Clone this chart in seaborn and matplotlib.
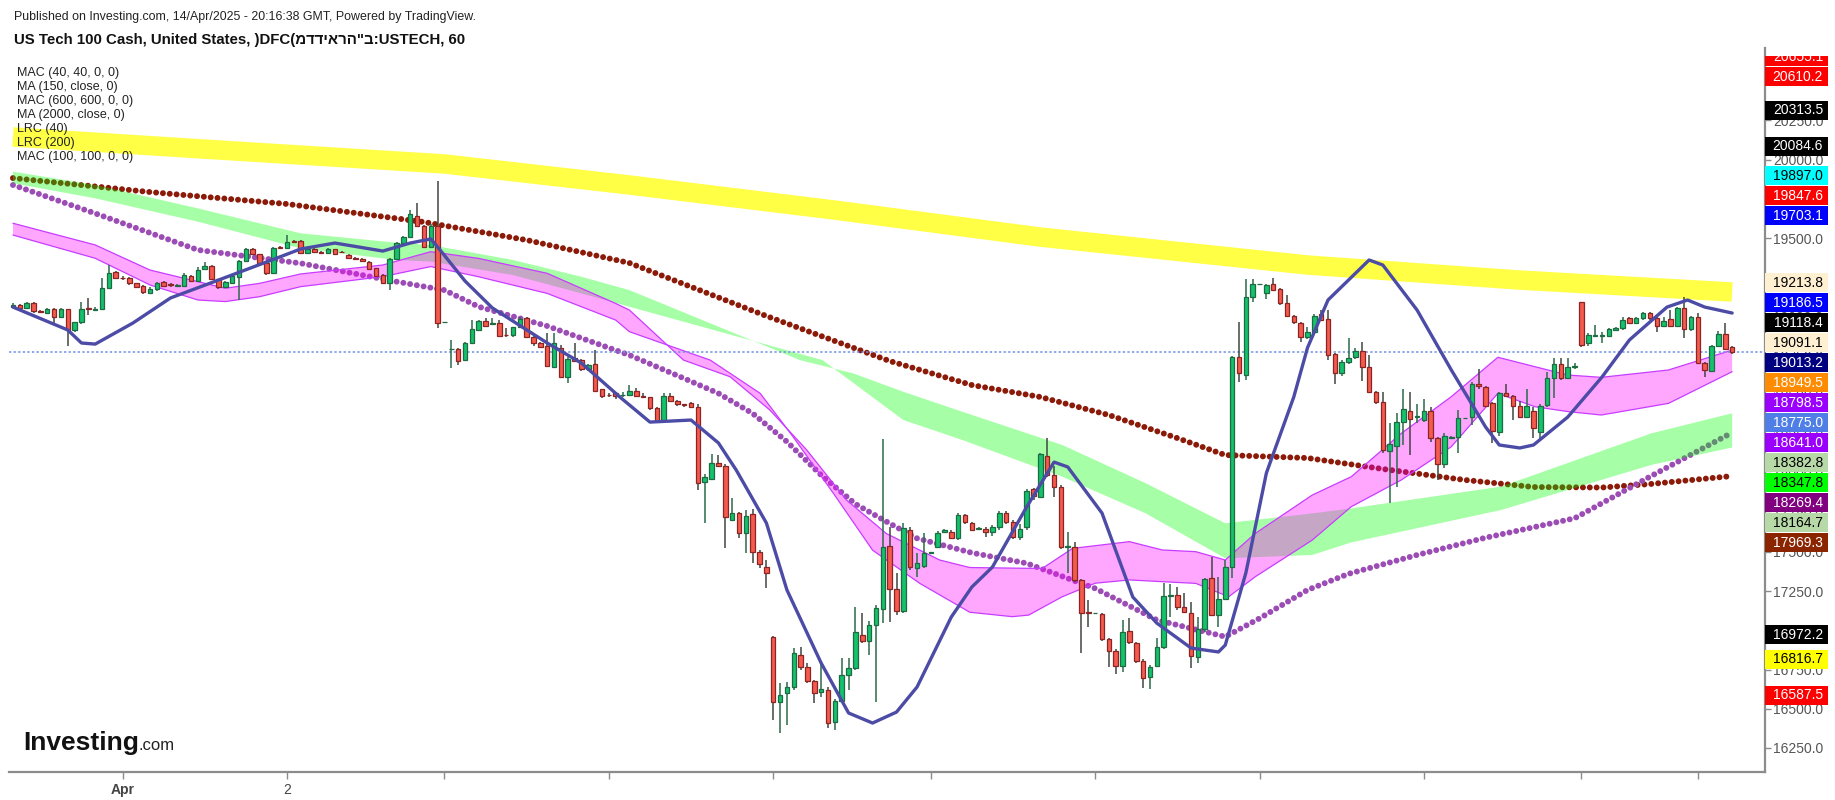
import numpy as np
import pandas as pd
import matplotlib
matplotlib.use("Agg")
import matplotlib.pyplot as plt
from matplotlib.patches import Rectangle
import seaborn as sns

sns.set_theme(style="white")
plt.rcParams["font.family"] = ["Liberation Sans", "DejaVu Sans"]

# ---- hourly candles (bar index 0..251) ----
opens = [
    19063, 19071, 19054, 19084, 19035, 19020, 19050, 18995, 19046, 18914, 18963, 19050,
    19041, 19046, 19180, 19281, 19245, 19243, 19211, 19194, 19152, 19173, 19218, 19203,
    19196, 19194, 19258, 19226, 19301, 19324, 19237, 19186, 19216, 19254, 19354, 19428,
    19396, 19343, 19279, 19443, 19434, 19483, 19483, 19403, 19432, 19411, 19407, 19428,
    19413, 19392, 19371, 19366, 19349, 19307, 19264, 19216, 19366, 19466, 19504, 19640,
    19577, 19443, 19577, 18963, 18790, 18790, 18722, 18829, 18914, 18971, 18950, 18956,
    18882, 18882, 18930, 18988, 18871, 18833, 18812, 18680, 18797, 18616, 18733, 18722,
    18663, 18695, 18535, 18500, 18514, 18497, 18499, 18525, 18495, 18485, 18415, 18334,
    18493, 18463, 18440, 18446, 18421, 17943, 17964, 18064, 18047, 17703, 17745, 17618,
    17739, 17497, 17401, 16960, 16545, 16598, 16636, 16843, 16764, 16679, 16605, 16620,
    16418, 16552, 16715, 16758, 16970, 16934, 17034, 17134, 17537, 17261, 17125, 17639,
    17395, 17410, 17495, 17533, 17628, 17628, 17586, 17735, 17686, 17645, 17648, 17624,
    17656, 17750, 17692, 17592, 17656, 17898, 17852, 18111, 17990, 17915, 17532, 17529,
    17320, 17119, 17108, 17102, 16942, 16870, 16773, 16998, 16917, 16807, 16700, 16773,
    16891, 17219, 17225, 17146, 17108, 16832, 17006, 17331, 17098, 17197, 17401, 18739,
    18627, 19122, 19205, 19152, 19205, 19173, 19083, 19003, 18956, 18867, 18899, 19016,
    18982, 18759, 18638, 18708, 18740, 18782, 18676, 18517, 18453, 18143, 18177, 18326,
    18398, 18357, 18340, 18400, 18224, 18058, 18228, 18230, 18351, 18357, 18570, 18549,
    18447, 18262, 18510, 18495, 18432, 18357, 18400, 18266, 18436, 18606, 18695, 18606,
    18680, 19092, 18829, 18876, 18876, 18878, 18914, 18925, 18988, 18956, 18988, 19024,
    18988, 18939, 18982, 18939, 19052, 18918, 18994, 18701, 18655, 18812, 18886, 18803,
]
highs = [
    19084, 19078, 19090, 19090, 19041, 19052, 19055, 19052, 19050, 18968, 19095, 19116,
    19060, 19243, 19328, 19290, 19255, 19250, 19215, 19200, 19185, 19220, 19225, 19212,
    19210, 19275, 19265, 19318, 19345, 19330, 19240, 19225, 19265, 19360, 19435, 19436,
    19400, 19348, 19440, 19450, 19519, 19490, 19488, 19435, 19440, 19418, 19434, 19432,
    19420, 19400, 19378, 19372, 19352, 19312, 19270, 19372, 19472, 19515, 19680, 19721,
    19585, 19590, 19866, 18965, 18850, 18800, 18840, 18977, 18980, 18988, 18990, 18975,
    18924, 18935, 18995, 18995, 18875, 18840, 18893, 18893, 18820, 18740, 18829, 18730,
    18700, 18787, 18540, 18510, 18520, 18520, 18563, 18545, 18510, 18490, 18420, 18510,
    18515, 18470, 18445, 18457, 18440, 17995, 18123, 18117, 18060, 17841, 17755, 17766,
    17773, 17510, 17448, 16965, 16662, 16672, 16885, 16896, 16790, 16685, 16785, 16640,
    16560, 16821, 16825, 17151, 17108, 17060, 17160, 18217, 17660, 17363, 17682, 17660,
    17491, 17618, 17497, 17630, 17645, 17640, 17750, 17740, 17690, 17660, 17660, 17668,
    17762, 17760, 17700, 17680, 17902, 17905, 18132, 18223, 18047, 17925, 17628, 17565,
    17330, 17193, 17110, 17110, 16950, 16880, 17066, 17076, 16925, 16815, 16780, 16949,
    17299, 17295, 17278, 17236, 17182, 17087, 17335, 17469, 17342, 17448, 18750, 18967,
    19236, 19236, 19207, 19210, 19243, 19180, 19136, 19010, 18965, 18935, 19015, 19041,
    19040, 18770, 18720, 18861, 18800, 18840, 18755, 18525, 18520, 18320, 18383, 18536,
    18521, 18442, 18472, 18420, 18230, 18260, 18240, 18404, 18355, 18580, 18663, 18560,
    18455, 18520, 18570, 18500, 18460, 18536, 18420, 18440, 18648, 18733, 18733, 18733,
    18705, 19095, 18895, 18945, 18900, 18925, 18935, 18999, 18995, 18995, 19030, 19030,
    18995, 18999, 19040, 19060, 19126, 19004, 19020, 18710, 18820, 18909, 18956, 18810,
]
lows = [
    19052, 19050, 19050, 19025, 19020, 19015, 18957, 18990, 18812, 18903, 18955, 19010,
    19035, 19040, 19175, 19238, 19235, 19200, 19180, 19145, 19145, 19165, 19185, 19190,
    19185, 19190, 19220, 19220, 19295, 19230, 19175, 19180, 19210, 19105, 19345, 19390,
    19335, 19265, 19270, 19428, 19428, 19470, 19398, 19398, 19405, 19400, 19400, 19390,
    19405, 19365, 19358, 19348, 19296, 19250, 19206, 19169, 19360, 19460, 19498, 19570,
    19435, 19438, 18925, 18960, 18669, 18690, 18715, 18825, 18905, 18933, 18945, 18870,
    18867, 18870, 18925, 18860, 18815, 18800, 18680, 18670, 18610, 18574, 18710, 18655,
    18655, 18520, 18480, 18485, 18475, 18490, 18495, 18490, 18484, 18405, 18320, 18325,
    18458, 18430, 18425, 18415, 17894, 17682, 17955, 18040, 17522, 17695, 17590, 17495,
    17430, 17400, 17267, 16428, 16343, 16397, 16620, 16750, 16665, 16539, 16577, 16375,
    16365, 16540, 16620, 16745, 16920, 16843, 16545, 17045, 17050, 17097, 17110, 17385,
    17342, 17400, 17493, 17525, 17620, 17580, 17575, 17680, 17630, 17640, 17597, 17600,
    17640, 17680, 17585, 17575, 17640, 17830, 17845, 17980, 17852, 17520, 17363, 17310,
    16858, 17023, 17106, 16935, 16765, 16722, 16736, 16915, 16790, 16630, 16624, 16765,
    16880, 17087, 17130, 17110, 16757, 16790, 16990, 17090, 17023, 17190, 17331, 18584,
    18595, 19094, 19203, 19109, 19160, 19075, 18995, 18955, 18839, 18855, 18890, 18970,
    18720, 18570, 18620, 18695, 18730, 18591, 18510, 18440, 18132, 17809, 17916, 18181,
    18117, 18319, 18330, 18202, 17958, 18032, 18220, 18132, 18345, 18309, 18540, 18420,
    18192, 18241, 18485, 18340, 18350, 18350, 18224, 18205, 18420, 18478, 18595, 18600,
    18665, 18803, 18815, 18870, 18829, 18870, 18905, 18915, 18950, 18950, 18980, 18980,
    18900, 18930, 18930, 18935, 18865, 18910, 18695, 18616, 18645, 18805, 18785, 18761,
]
closes = [
    19073, 19054, 19084, 19035, 19027, 19046, 18995, 19046, 18914, 18963, 19050, 19048,
    19050, 19180, 19275, 19243, 19243, 19211, 19190, 19154, 19177, 19211, 19194, 19201,
    19203, 19267, 19226, 19296, 19324, 19237, 19186, 19218, 19258, 19354, 19428, 19396,
    19343, 19279, 19434, 19434, 19473, 19475, 19403, 19428, 19411, 19407, 19428, 19396,
    19411, 19371, 19364, 19354, 19303, 19258, 19216, 19366, 19466, 19504, 19651, 19577,
    19441, 19577, 18957, 18963, 18795, 18718, 18829, 18918, 18971, 18939, 18956, 18875,
    18880, 18930, 18984, 18867, 18829, 18807, 18684, 18829, 18616, 18727, 18718, 18663,
    18690, 18525, 18495, 18499, 18493, 18499, 18525, 18495, 18489, 18415, 18334, 18493,
    18463, 18440, 18436, 18425, 17937, 17975, 18064, 18047, 17720, 17745, 17618, 17730,
    17497, 17420, 17363, 16545, 16588, 16636, 16853, 16764, 16679, 16598, 16626, 16407,
    16552, 16715, 16758, 16987, 16934, 17034, 17140, 17529, 17261, 17125, 17650, 17401,
    17427, 17495, 17495, 17618, 17639, 17586, 17735, 17688, 17639, 17650, 17624, 17656,
    17750, 17692, 17592, 17648, 17890, 17856, 18121, 17990, 17915, 17529, 17537, 17320,
    17108, 17110, 17108, 16942, 16870, 16773, 16987, 16924, 16807, 16694, 16768, 16891,
    17219, 17225, 17146, 17119, 16836, 17006, 17325, 17098, 17197, 17401, 18739, 18637,
    19122, 19205, 19205, 19200, 19169, 19083, 19003, 18962, 18867, 18899, 19003, 18978,
    18755, 18638, 18708, 18733, 18782, 18676, 18517, 18453, 18149, 18185, 18326, 18408,
    18347, 18368, 18400, 18224, 18058, 18241, 18232, 18351, 18351, 18570, 18557, 18430,
    18270, 18510, 18495, 18430, 18357, 18432, 18287, 18432, 18606, 18695, 18606, 18680,
    18685, 18818, 18882, 18876, 18876, 18920, 18925, 18978, 18956, 18988, 19024, 18988,
    18939, 18973, 18939, 19052, 18918, 18994, 18701, 18659, 18812, 18886, 18793, 18775,
]

# ---- indicators, read at a few bars ----
lrc200_bar = [0, 30, 63, 90, 120, 150, 189, 220, 251]
lrc200_val = [20144, 20061, 19972, 19838, 19678, 19506, 19328, 19232, 19156]

ma2000_bar = [0, 20, 40, 60, 75, 90, 110, 128, 140, 150, 160, 170, 177, 189, 200, 212, 222, 232, 239, 251]
ma2000_val = [19882, 19793, 19717, 19602, 19487, 19341, 19003, 18716, 18563, 18487, 18372, 18225,
              18117, 18098, 18028, 17958, 17913, 17910, 17932, 17983]

ma150_bar = [0, 12, 27, 42, 56, 63, 68, 78, 90, 98, 103, 108, 113, 118, 123, 128, 132, 140,
             148, 158, 167, 177, 182, 189, 195, 205, 215, 228, 239, 251]
ma150_val = [19838, 19657, 19424, 19339, 19222, 19168, 19062, 18939, 18754, 18605, 18510, 18382,
             18202, 17989, 17805, 17681, 17586, 17494, 17427, 17267, 17066, 16959, 17076, 17257,
             17360, 17480, 17590, 17714, 17979, 18260]

lrc40_bar = [0, 8, 10, 12, 17.5, 23, 30, 37, 42, 47, 54, 58, 61, 62, 66, 70, 78, 83, 88.6, 93,
             99, 103, 105.6, 110, 113, 118, 122, 125.5, 129, 132, 137, 140, 143, 148, 152, 154,
             159, 163.5, 167, 172, 176, 177, 180, 183, 187, 189, 192, 198, 200, 205, 210, 215,
             217, 220, 222, 227, 232, 236, 239, 241.5, 244.5, 247, 251]
lrc40_val = [19060, 18914, 18831, 18824, 18958, 19118, 19232, 19347, 19430, 19468, 19417, 19468,
             19494, 19443, 19226, 19054, 18831, 18703, 18487, 18327, 18340, 18194, 18021, 17684,
             17257, 16791, 16473, 16409, 16479, 16639, 17085, 17276, 17403, 17786, 18072, 18041,
             17747, 17212, 17046, 16887, 16862, 16906, 17365, 18002, 18487, 18800, 19105, 19360,
             19328, 19041, 18659, 18296, 18181, 18162, 18181, 18359, 18614, 18850, 18965, 19060,
             19105, 19060, 19022]

mac40_up_bar = [0, 12, 20, 27, 31, 36, 42, 54, 61, 68, 78, 88, 90, 97.9, 104.7, 110.5, 115.9, 121.7,
                127.5, 135.3, 139.7, 148.3, 150.3, 154.7, 163, 167.8, 172.7, 177, 181.4, 189.7,
                195.4, 202.7, 210, 216.8, 222.2, 227, 231.9, 241.7, 251]
mac40_up_val = [19594, 19456, 19296, 19222, 19180, 19211, 19271, 19328, 19413, 19370, 19275, 19083,
                19041, 18722, 18616, 18404, 18149, 17830, 17617, 17448, 17400, 17395, 17395, 17522,
                17565, 17512, 17501, 17448, 17618, 17862, 17979, 18255, 18489, 18740, 18680, 18627,
                18612, 18659, 18786]
mac40_lo_bar = [0, 12, 20, 27, 31, 36, 42, 54, 61, 68, 78, 88, 90, 101.8, 109.1, 113.9, 119.8, 125.5,
                132.4, 139.7, 145.9, 148.3, 153.2, 158, 163, 167.8, 172.7, 177.5, 181.4, 189.7,
                195.4, 202.7, 210, 216.8, 222.2, 227, 231.9, 241.7, 251]
mac40_lo_val = [19519, 19371, 19201, 19105, 19095, 19126, 19190, 19254, 19318, 19253, 19147, 18977,
                18903, 18722, 18510, 18233, 17872, 17511, 17299, 17115, 17087, 17097, 17214, 17300,
                17321, 17310, 17299, 17214, 17342, 17575, 17788, 17958, 18170, 18510, 18425, 18394,
                18372, 18446, 18648]

mac100_up_bar = [0, 12, 27, 42, 56, 61, 73, 83, 90, 114.9, 122.7, 130, 138.6, 153.2, 165.4, 177,
                 189.7, 195.4, 217.3, 239.2, 251]
mac100_up_val = [19923, 19838, 19689, 19530, 19470, 19455, 19360, 19253, 19168, 18722, 18637, 18520,
                 18393, 18181, 17937, 17682, 17745, 17777, 17916, 18255, 18383]
mac100_lo_bar = [0, 12, 27, 42, 56, 61, 73, 83, 90, 118.2, 130, 138.6, 153.2, 165.4, 177, 189.7,
                 195.4, 217.3, 239.2, 251]
mac100_lo_val = [19849, 19753, 19604, 19434, 19360, 19350, 19264, 19147, 19062, 18722, 18340, 18213,
                 17979, 17745, 17459, 17480, 17560, 17767, 18054, 18165]

# ---- text ----
header = "Published on Investing.com, 14/Apr/2025 - 20:16:38 GMT, Powered by TradingView."
title = 'US Tech 100 Cash, United States, )DFC(\u05de\u05d3\u05d3\u05d9\u05d0\u05e8\u05d4"\u05d1:USTECH, 60'
legend_names = ["MAC (40, 40, 0, 0)", "MA (150, close, 0)", "MAC (600, 600, 0, 0)",
                "MA (2000, close, 0)", "LRC (40)", "LRC (200)", "MAC (100, 100, 0, 0)"]
tick_bars = [16, 40, 63, 87, 111, 134, 158, 182, 206, 229, 246]
tick_names = ["Apr", "2", "", "", "", "", "", "", "", "", ""]
price_ticks = [16250, 16500, 16750, 17000, 17250, 17500, 17750, 18000, 18250, 18500,
               18750, 19000, 19250, 19500, 19750, 20000, 20250, 20500]

badge_vals = [20655.1, 20610.2, 20313.5, 20084.6, 19897.0, 19847.6, 19703.1, 19213.8, 19186.5,
              19118.4, 19091.1, 19013.2, 18949.5, 18798.5, 18775.0, 18641.0, 18382.8, 18347.8,
              18269.4, 18164.7, 17969.3, 16972.2, 16816.7, 16587.5]
badge_bg = ["#FF0000", "#FF0000", "#000000", "#000000", "#00FFFF", "#FF0000", "#0000FF", "#FFF0D2",
            "#0000FF", "#000000", "#FFF0D2", "#000080", "#FF8C00", "#9B00FF", "#4F7FE6", "#9B00FF",
            "#B7D9A8", "#00FF00", "#800080", "#B7D9A8", "#8B2500", "#000000", "#FFFF00", "#FF0000"]

df = pd.DataFrame({"open": opens, "high": highs, "low": lows, "close": closes})
df["bar"] = np.arange(len(df))

W, H = 1835, 800
fig = plt.figure(figsize=(W / 100, H / 100), dpi=100)
fig.patch.set_facecolor("white")
ax = fig.add_axes([9 / W, 28 / H, (1765 - 9) / W, (772 - 48) / H])
ax.set_facecolor("white")
ymin, ymax = 16097, 20711
per_px = (ymax - ymin) / (772 - 48)
ax.set_xlim(-0.58, 255.8)
ax.set_ylim(ymin, ymax)

# yellow regression curve
ax.plot(lrc200_bar, lrc200_val, color="#FFFF45", lw=14, solid_capstyle="butt", zorder=1.2)

# dotted moving averages
dots = dict(lw=4.3, linestyle=(0, (0.001, 1.146)), dash_capstyle="round")
ax.plot(ma2000_bar, ma2000_val, color="#8B1A08", zorder=1.5, **dots)
ax.plot(ma150_bar, ma150_val, color="#9C4DB5", zorder=1.5, **dots)

# channels
ax.fill(np.r_[mac100_up_bar, mac100_lo_bar[::-1]], np.r_[mac100_up_val, mac100_lo_val[::-1]],
        color="#00FF00", alpha=0.35, lw=0, zorder=2)
ax.fill(np.r_[mac40_up_bar, mac40_lo_bar[::-1]], np.r_[mac40_up_val, mac40_lo_val[::-1]],
        color="#FF00FF", alpha=0.35, lw=0, zorder=2.1)
ax.plot(mac40_up_bar, mac40_up_val, color="#C83CFF", lw=0.9, zorder=2.2)
ax.plot(mac40_lo_bar, mac40_lo_val, color="#C83CFF", lw=0.9, zorder=2.2)

# last price line
ax.axhline(closes[-1], color="#7090E8", lw=1.1, ls=(0, (1.5, 1.5)), zorder=2.5)

# candles
up = df["close"] >= df["open"]
lo = df[["open", "close"]].min(axis=1)
hi = df[["open", "close"]].max(axis=1)
ax.vlines(df["bar"], df["low"], df["high"], colors=np.where(up, "#2C6A4A", "#40463F"), lw=1.1, zorder=4)
ax.bar(df["bar"], (hi - lo).clip(lower=3), bottom=lo, width=0.66,
       color=np.where(up, "#13C26B", "#F45B4E"), edgecolor=np.where(up, "#1E6A43", "#8C2424"),
       linewidth=0.9, zorder=5)

# regression line LRC(40)
sns.lineplot(x=lrc40_bar, y=lrc40_val, ax=ax, color="#4C4CA6", lw=2.4, sort=False, zorder=6)

# price badges, pushed down so they never overlap
step = 20 * per_px
prev = np.inf
badge_y = []
for v in badge_vals:
    yv = min(v, prev - step)
    badge_y.append(yv)
    prev = yv

# axes styling
for s in ["left", "top"]:
    ax.spines[s].set_visible(False)
for s in ["bottom", "right"]:
    ax.spines[s].set_color("#8C8C8C")
    ax.spines[s].set_linewidth(1.6)
ax.yaxis.tick_right()
ax.set_yticks(price_ticks)
# labels that sit fully under a badge are not visible on the chart
ax.set_yticklabels(["" if min(abs(t - b) for b in badge_y) < 6 * per_px else f"{t:.1f}"
                    for t in price_ticks])
ax.set_xticks(tick_bars)
ax.set_xticklabels(tick_names)
ax.tick_params(axis="y", right=True, left=False, direction="out", length=4, width=1,
               color="#8C8C8C", labelcolor="#555555", labelsize=10, pad=2)
ax.tick_params(axis="x", bottom=True, direction="out", length=5, width=1,
               color="#8C8C8C", labelcolor="#444444", labelsize=10, pad=3)
for t in ax.get_xticklabels():
    if t.get_text() == "Apr":
        t.set_fontweight("bold")
ax.grid(False)
ax.set_xlabel("")
ax.set_ylabel("")

# badge strip (clipped at its top like the chart)
top_px = 56
axr = fig.add_axes([1765 / W, 28 / H, 70 / W, (772 - top_px) / H])
axr.set_xlim(0, 1)
axr.set_ylim(ymin, ymax - (top_px - 48) * per_px)
axr.axis("off")
for v, yv, bg in zip(badge_vals, badge_y, badge_bg):
    fg = "black" if bg in ("#00FFFF", "#FFF0D2", "#B7D9A8", "#00FF00", "#FFFF00") else "white"
    axr.add_patch(Rectangle((0.0, yv - 9.5 * per_px), 0.9, 19 * per_px, color=bg, lw=0, zorder=3))
    axr.text(0.47, yv, f"{v:.1f}", color=fg, fontsize=10, ha="center", va="center",
             zorder=4, clip_on=True)

# header texts
fig.text(14 / W, 1 - 17 / H, header, fontsize=8.9, color="#222222", va="center")
fig.text(14 / W, 1 - 40 / H, title, fontsize=10.8, fontweight="bold",
         family=["Liberation Sans", "DejaVu Sans"], color="#111111", va="center")
for k, s in enumerate(legend_names):
    fig.text(17 / W, 1 - (73 + 14 * k) / H, s, fontsize=9, color="#222222", va="center")

# logo
fig.text(23 / W, 1 - 750 / H, "Investing", fontsize=19, fontweight="bold", color="#111111",
         va="baseline")
fig.text(138 / W, 1 - 750 / H, ".com", fontsize=12, color="#222222", va="baseline")

fig.savefig("out.png", dpi=100, facecolor="white")
